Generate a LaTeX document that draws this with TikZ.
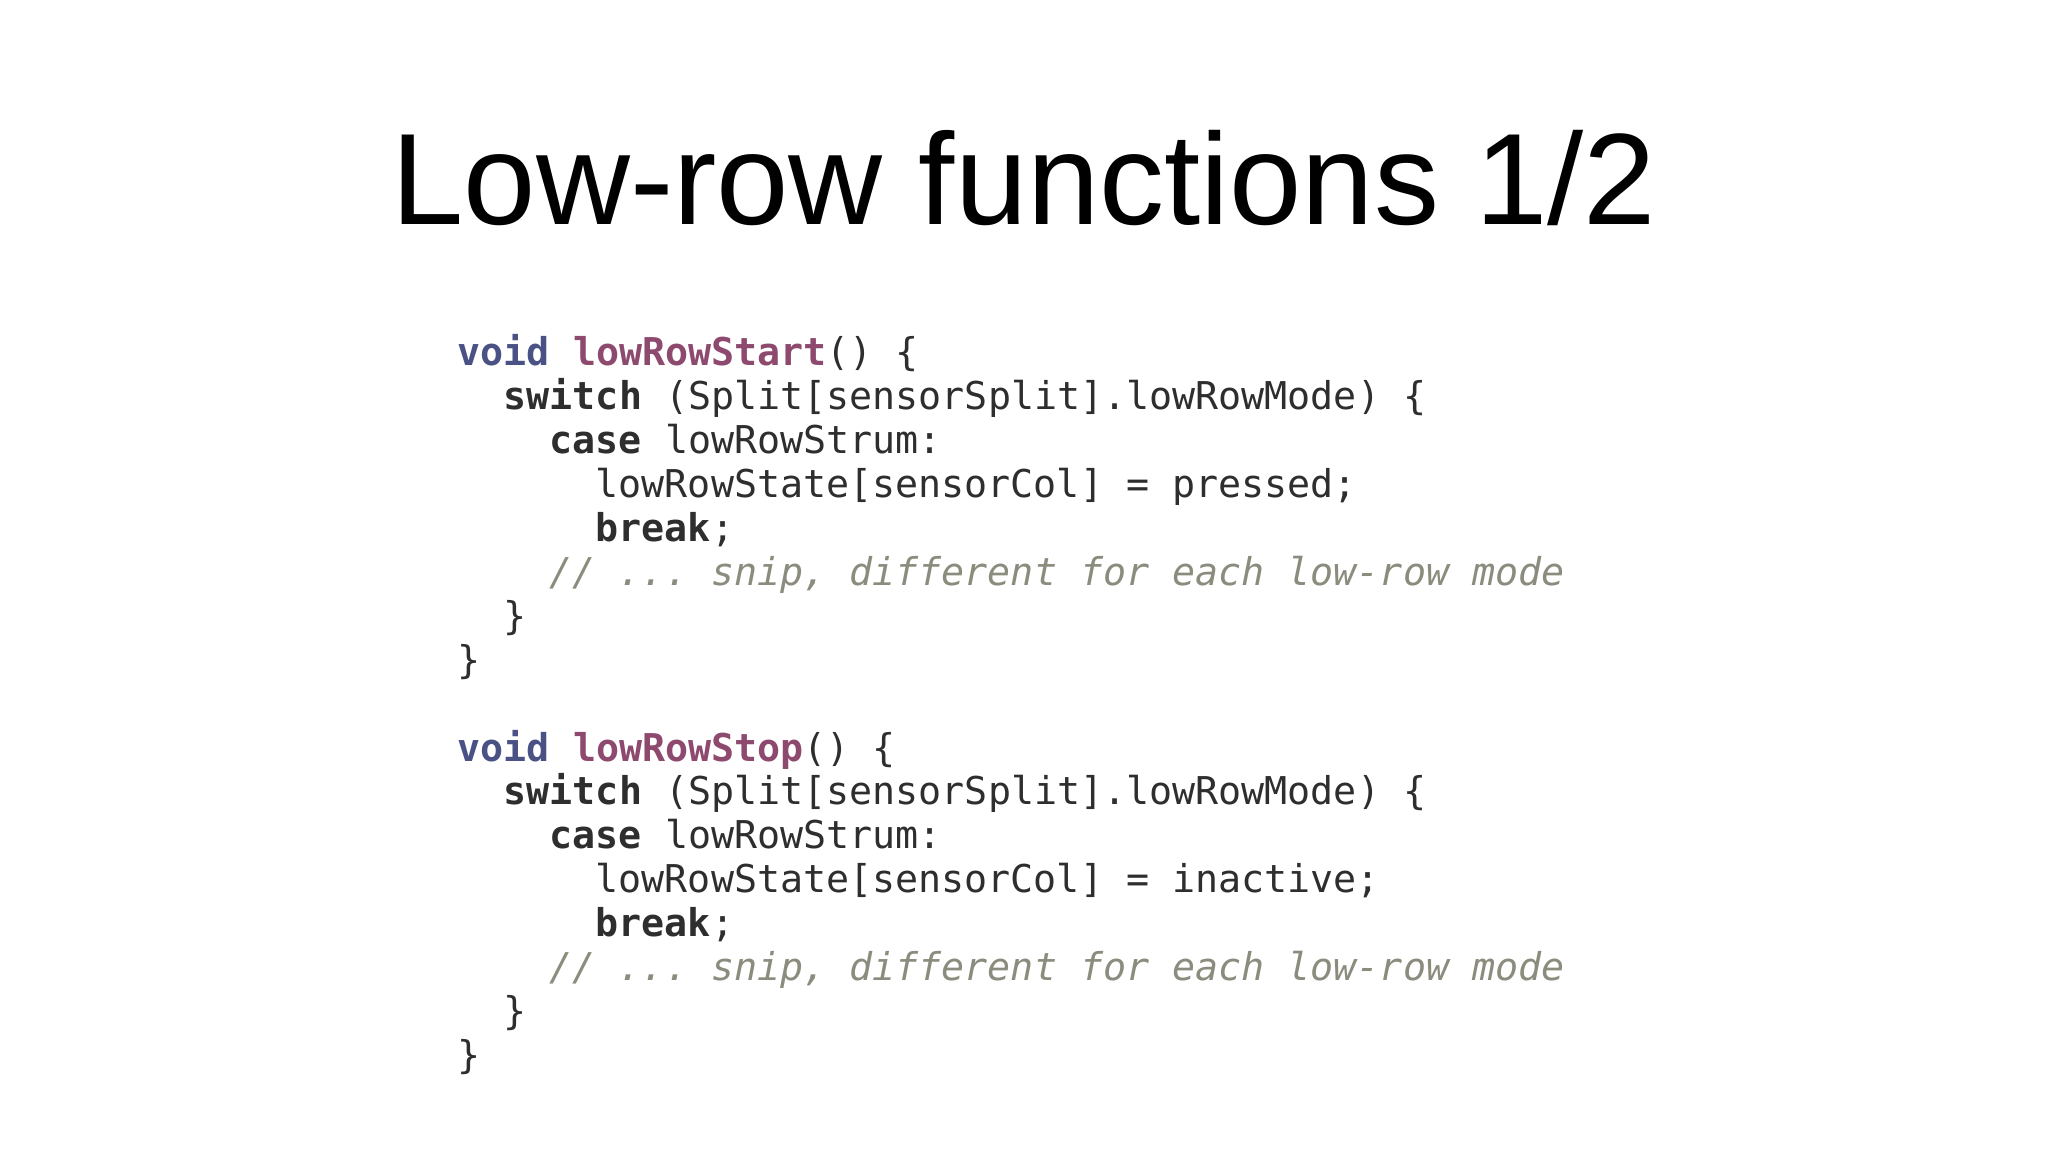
\documentclass[tikz,border=0pt]{standalone}
\usepackage{fontspec}
\setmainfont{Liberation Sans}
\setmonofont{DejaVu Sans Mono}
\definecolor{kwblue}{HTML}{4A5285}
\definecolor{fnpurp}{HTML}{8E4A6E}
\definecolor{codetx}{HTML}{2E2E2E}
\definecolor{cmgray}{HTML}{8C8C7E}
\newcommand{\kb}[1]{\textcolor{kwblue}{\bfseries #1}}
\newcommand{\fp}[1]{\textcolor{fnpurp}{\bfseries #1}}
\newcommand{\kw}[1]{{\bfseries #1}}
\newcommand{\cm}[1]{\textcolor{cmgray}{\itshape #1}}
\begin{document}
\begin{tikzpicture}[x=1cm,y=1cm,
  code/.style={anchor=base west,inner sep=0pt,font=\ttfamily\fontsize{10.9}{13}\selectfont,text=codetx}]
\useasboundingbox[fill=white] (0,0) rectangle (20.48,11.52);
\node[anchor=base,inner sep=0pt,font=\fontsize{37}{44}\selectfont] (title) at (10.24,9.27) {Low-row functions 1/2};
\def\xa{4.57}\def\ci{0.46}
\def\ya{7.86}\def\dy{0.439}
\foreach \blk/\verb in {0/pressed,9/inactive}{
  \pgfmathsetmacro{\yb}{\ya-\blk*\dy}
  \node[code] (f\blk) at (\xa,\yb) {\kb{void} \fp{\ifnum\blk=0 lowRowStart\else lowRowStop\fi}() \{};
  \node[code] (s\blk) at (\xa+\ci,\yb-\dy) {\kw{switch} (Split[sensorSplit].lowRowMode) \{};
  \node[code] (c\blk) at (\xa+2*\ci,\yb-2*\dy) {\kw{case} lowRowStrum:};
  \node[code] (a\blk) at (\xa+3*\ci,\yb-3*\dy) {lowRowState[sensorCol] = \verb;};
  \node[code] (b\blk) at (\xa+3*\ci,\yb-4*\dy) {\kw{break};};
  \node[code] (m\blk) at (\xa+2*\ci,\yb-5*\dy) {\cm{// ... snip, different for each low-row mode}};
  \node[code] (e\blk) at (\xa+\ci,\yb-6*\dy) {\}};
  \node[code] (g\blk) at (\xa,\yb-7*\dy) {\}};
}
\end{tikzpicture}
\end{document}
